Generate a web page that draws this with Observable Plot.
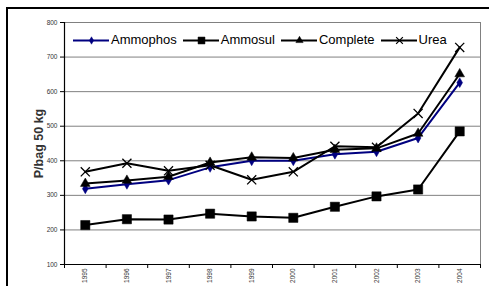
<!DOCTYPE html>
<html><head><meta charset="utf-8">
<script src="https://cdn.jsdelivr.net/npm/d3@7"></script>
<script src="https://cdn.jsdelivr.net/npm/@observablehq/plot@0.6"></script>
<style>
body{margin:0;background:#fff;font-family:"Liberation Sans",Arial,sans-serif}
#wrap{position:relative;width:489px;height:286px;overflow:hidden;background:#fff}
#border{position:absolute;left:6px;top:7px;width:700px;height:500px;border-left:2px solid #000;border-top:2px solid #000;box-sizing:border-box}
#chart{position:absolute;left:0;top:0}
#legend{position:absolute;left:73px;top:32px;display:flex;align-items:center;gap:6px;font-size:13px;color:#000;background:#fff;line-height:16px}
#legend .item{display:flex;align-items:center;gap:2px}
#legend svg{display:block}
[aria-label="y-axis label"] text{font-size:12.5px;font-weight:bold}
</style></head>
<body>
<div id="wrap"><div id="border"></div><div id="chart"></div><div id="legend"></div></div>
<script>
const years = [1995, 1996, 1997, 1998, 1999, 2000, 2001, 2002, 2003, 2004];
const seriesNames = ["Ammophos", "Ammosul", "Complete", "Urea"];
const ammophos = [319, 332, 344, 381, 400, 400, 419, 426, 466, 626];
const ammosul  = [214, 231, 230, 247, 239, 235, 267, 297, 317, 485];
const complete = [334, 343, 354, 395, 410, 408, 432, 436, 479, 651];
const urea     = [368, 393, 371, 387, 345, 368, 442, 439, 537, 728];
const yTicks = [100, 200, 300, 400, 500, 600, 700, 800];
const colors = ["#000080", "#000000", "#000000", "#000000"];
const symbols = ["diamond", "square", "triangle", "times"];
const sizes = [3, 5.2, 3.6, 4.2];

const valuesBySeries = [ammophos, ammosul, complete, urea];
const data = seriesNames.flatMap((s, k) => years.map((y, i) => ({series: s, year: y, value: valuesBySeries[k][i]})));
const bounds = years.map(y => y - 0.5).concat([years[years.length - 1] + 0.5]);

const dotMarks = seriesNames.map((s, k) => Plot.dot(data.filter(d => d.series === s), {
  x: "year", y: "value", symbol: () => symbols[k], r: sizes[k],
  fill: k === 3 ? "none" : colors[k], stroke: colors[k], strokeWidth: k === 3 ? 1.3 : 0.5
}));

const chart = Plot.plot({
  width: 489, height: 286,
  marginLeft: 64, marginRight: 9, marginTop: 22, marginBottom: 22,
  style: {fontFamily: "'Liberation Sans', Arial, sans-serif", background: "transparent", overflow: "visible"},
  x: {type: "linear", domain: [bounds[0], bounds[bounds.length - 1]]},
  y: {domain: [100, 800]},
  symbol: {type: "identity"},
  marks: [
    Plot.ruleY(yTicks.slice(1, -1), {stroke: "#808080", strokeWidth: 1}),
    Plot.frame({stroke: "#808080"}),
    Plot.ruleX([bounds[0]], {stroke: "#000", strokeWidth: 1.2}),
    Plot.ruleY([100], {stroke: "#000", strokeWidth: 1.2}),
    Plot.axisY({ticks: yTicks, tickSize: 4, tickPadding: 3, fontSize: 6.5, fill: "#333",
      label: "P/bag 50 kg", labelAnchor: "center", labelArrow: "none", labelOffset: 30}),
    Plot.axisX({ticks: bounds, tickSize: 4, tickFormat: () => "", label: null}),
    Plot.axisX({ticks: years, tickSize: 0, tickPadding: 4, tickRotate: -90, fontSize: 6.5, fill: "#333",
      tickFormat: d => String(d), label: null}),
    Plot.line(data, {x: "year", y: "value", z: "series",
      stroke: d => colors[seriesNames.indexOf(d.series)], strokeWidth: 2}),
    ...dotMarks
  ]
});
document.getElementById("chart").appendChild(chart);

// legend
const legend = document.getElementById("legend");
seriesNames.forEach((s, k) => {
  const item = document.createElement("div");
  item.className = "item";
  const sw = Plot.plot({
    width: 36, height: 12, margin: 0,
    x: {domain: [0, 1], axis: null}, y: {domain: [0, 1], axis: null},
    symbol: {type: "identity"},
    style: {background: "transparent", overflow: "visible"},
    marks: [
      Plot.ruleY([0.5], {stroke: colors[k], strokeWidth: 2}),
      Plot.dot([0.5], {x: d => d, y: 0.5, symbol: () => symbols[k], r: sizes[k] * 0.75,
        fill: k === 3 ? "none" : colors[k], stroke: colors[k], strokeWidth: k === 3 ? 1.2 : 0.5})
    ]
  });
  item.appendChild(sw);
  const t = document.createElement("span");
  t.textContent = s;
  item.appendChild(t);
  legend.appendChild(item);
});
</script>
</body></html>
